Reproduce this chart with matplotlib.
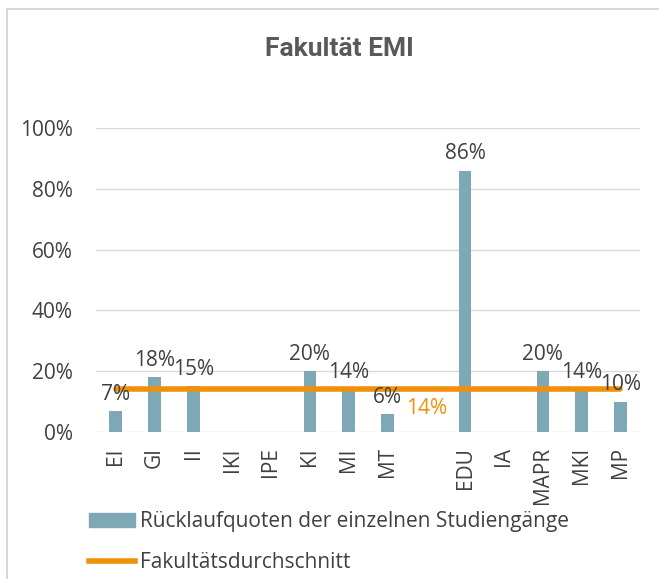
import matplotlib.pyplot as plt
import numpy as np
from matplotlib.patches import Rectangle
from matplotlib.lines import Line2D

# Studiengänge (leerer Eintrag = Lücke zwischen Bachelor und Master)
labels = ["EI", "GI", "II", "IKI", "IPE", "KI", "MI", "MT", "", "EDU", "IA", "MAPR", "MKI", "MP"]
quoten = [0.07, 0.18, 0.15, np.nan, np.nan, 0.20, 0.14, 0.06, np.nan, 0.86, np.nan, 0.20, 0.14, 0.10]
durchschnitt = 0.14

bar_color = "#7FA8B6"
line_color = "#F0900A"
text_color = "#404040"

plt.rcParams["font.family"] = ["Open Sans", "DejaVu Sans"]
fs = 15

fig = plt.figure(figsize=(6.59, 5.79), dpi=100)
fig.patches.append(Rectangle((7 / 659, -0.01), 1.0, 1 - 9 / 579 + 0.01, transform=fig.transFigure,
                             fill=False, edgecolor="#D0D0D0", linewidth=1.2))

ax = fig.add_axes([0.146, 0.254, 0.825, 0.525])
x = np.arange(len(labels))
ax.bar(x, quoten, width=0.32, color=bar_color, zorder=2)
ax.plot(x, [durchschnitt] * len(x), color=line_color, linewidth=4, solid_capstyle="round", zorder=3)

for xi, v in zip(x, quoten):
    if not np.isnan(v):
        ax.text(xi, v + 0.02, f"{v:.0%}", ha="center", va="bottom", fontsize=fs, color=text_color, zorder=4)
ax.text(8, durchschnitt - 0.03, f"{durchschnitt:.0%}", ha="center", va="top", fontsize=fs, color=line_color)

ax.set_ylim(0, 1.0)
ax.set_xlim(-0.5, len(labels) - 0.5)
ax.set_yticks(np.arange(0, 1.01, 0.2))
ax.set_yticklabels([f"{t:.0%}" for t in np.arange(0, 1.01, 0.2)], fontsize=fs, color=text_color)
ax.set_xticks(x)
ax.set_xticklabels(labels, rotation=90, fontsize=fs, color=text_color)
ax.tick_params(axis="y", length=0, pad=17)
ax.tick_params(axis="x", length=0, pad=11)
ax.grid(axis="y", color="#D9D9D9", linewidth=1, zorder=0)
for s in ax.spines.values():
    s.set_visible(False)

fig.text(0.515, 1 - 49 / 579, "Fakultät EMI", ha="center", va="center", fontsize=19,
         fontweight="bold", color="#595959", family="Roboto")

handles = [Rectangle((0, 0), 1, 1, color=bar_color),
           Line2D([0], [0], color=line_color, linewidth=4)]
fig.legend(handles, ["Rücklaufquoten der einzelnen Studiengänge", "Fakultätsdurchschnitt"],
           loc="upper left", bbox_to_anchor=(0.122, 1 - 503 / 579), frameon=False,
           fontsize=fs, labelcolor=text_color, handlelength=2.2, handletextpad=0.25,
           labelspacing=0.95, borderaxespad=0)

fig.savefig("out.png", dpi=100)
